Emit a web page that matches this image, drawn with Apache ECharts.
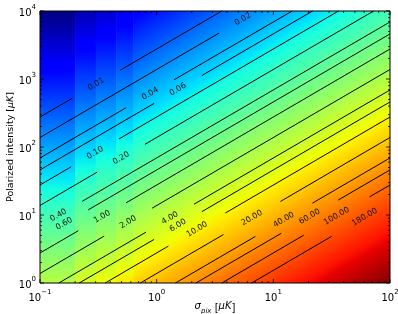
<!DOCTYPE html>
<html>
<head>
<meta charset="utf-8">
<script src="https://cdn.jsdelivr.net/npm/echarts@6/dist/echarts.min.js"></script>
<style>
  html, body { margin: 0; padding: 0; background: #fff; }
  #main { width: 398px; height: 314px; }
</style>
</head>
<body>
<div id="main"></div>
<script>
// axes: sigma_pix and polarized intensity, both in uK
const xRange = [0.1, 100];
const yRange = [1, 10000];
const xTicks = [0.1, 1, 10, 100];
const xTickExp = ['\u22121', '0', '1', '2'];
const yTicks = [1, 10, 100, 1000, 10000];
const yTickExp = ['0', '1', '2', '3', '4'];
const minorSteps = [2, 3, 4, 5, 6, 7, 8, 9];

// colour map columns (the first ones are coarse), value at P=1 and P=1e4
const cellSigmaLeft = [0.1, 0.2, 0.3, 0.45, 0.63];
const cellSigmaRight = [0.2, 0.3, 0.45, 0.63, 100];
const cellLowLeft = [2.76, 5.52, 8.28, 12.4, 17.4];
const cellHighLeft = [0.000276, 0.000552, 0.000828, 0.00124, 0.00174];
const cellLowRight = [2.76, 5.52, 8.28, 12.4, 2760];
const fieldMin = 0.000276;
const fieldMax = 2760;

// contour levels and where their labels sit
const levels = [0.01, 0.02, 0.04, 0.06, 0.1, 0.2, 0.4, 0.6, 1, 2, 4, 6, 10, 20, 40, 60, 100, 180];
const labelSigma = [0.303, 5.48, 0.879, 1.52, 0.297, 0.495, 0.144, 0.161, 0.341, 0.569, 1.30, 1.52, 2.22, 6.55, 12.3, 20.5, 34.9, 60.7];
const labelP = [838, 7568, 607, 701, 82.0, 68.4, 9.91, 7.43, 9.42, 7.85, 8.99, 7.01, 6.12, 9.04, 8.49, 9.44, 9.64, 9.31];

// visible pieces of each contour line (gaps are left for the labels)
const segLevel = [0, 0, 1, 2, 2, 3, 3, 4, 4, 5, 5, 6, 7, 8, 8, 9, 9, 10, 10, 11, 11, 12, 12, 13, 13, 14, 14, 15, 15, 16, 16, 17];
const segStart = [
  [0.1, 276], [0.486, 1343], [0.1, 138], [0.1, 69.0], [1.41, 973], [0.1, 46.0], [2.44, 1125],
  [0.1, 27.6], [0.476, 131.5], [0.1, 13.8], [0.796, 109.9], [0.230, 15.9], [0.259, 11.9],
  [0.1, 2.76], [0.547, 15.1], [0.1, 1.38], [0.914, 12.6], [0.145, 1], [2.09, 14.4],
  [0.217, 1], [2.44, 11.2], [0.362, 1], [3.88, 10.7], [0.724, 1], [11.5, 15.8],
  [1.45, 1], [21.6, 14.9], [2.17, 1], [36.0, 16.6], [3.62, 1], [66.9, 18.5], [6.52, 1]
];
const segEnd = [
  [0.189, 521], [3.62, 10000], [3.42, 4721], [0.547, 378], [14.5, 10000], [0.951, 438], [21.7, 10000],
  [0.185, 51.2], [36.2, 10000], [0.309, 42.7], [72.4, 10000], [100, 6902], [100, 4603],
  [0.213, 5.87], [100, 2761], [0.355, 4.90], [100, 1380], [0.811, 5.60], [100, 690],
  [0.951, 4.38], [100, 460], [1.26, 3.49], [100, 276], [3.73, 5.15], [100, 138],
  [7.02, 4.84], [100, 69.0], [11.7, 5.38], [100, 46.0], [18.2, 5.04], [100, 27.6], [31.6, 4.85]
];

// jet colormap
const jetStops = [
  [0, '#000080'], [0.11, '#0000ff'], [0.125, '#0000ff'], [0.34, '#00dbff'],
  [0.35, '#00e6f7'], [0.375, '#15ffe2'], [0.64, '#efff08'], [0.65, '#f7f500'],
  [0.66, '#ffec00'], [0.89, '#ff1300'], [0.91, '#e80000'], [1, '#800000']
];

const FONT = 'DejaVu Sans';

function renderCell(params, api) {
  const i = params.dataIndex;
  const bl = api.coord([cellSigmaLeft[i], yRange[0]]);
  const tl = api.coord([cellSigmaLeft[i], yRange[1]]);
  const br = api.coord([cellSigmaRight[i], yRange[0]]);
  const l0 = Math.log10(cellLowLeft[i]);
  const bx = (Math.log10(cellLowRight[i]) - l0) / (br[0] - bl[0]);
  const by = (Math.log10(cellHighLeft[i]) - l0) / (tl[1] - bl[1]);
  const g2 = bx * bx + by * by;
  const s0 = (Math.log10(fieldMin) - l0) / g2;
  const s1 = (Math.log10(fieldMax) - l0) / g2;
  const last = i === cellSigmaLeft.length - 1;
  return {
    type: 'rect',
    shape: { x: bl[0], y: tl[1], width: br[0] - bl[0] + (last ? 0 : 0.6), height: bl[1] - tl[1] },
    style: {
      fill: {
        type: 'linear', global: true,
        x: bl[0] + bx * s0, y: bl[1] + by * s0,
        x2: bl[0] + bx * s1, y2: bl[1] + by * s1,
        colorStops: jetStops.map(s => ({ offset: s[0], color: s[1] }))
      }
    }
  };
}

function renderSeg(params, api) {
  const i = params.dataIndex;
  const a = api.coord(segStart[i]);
  const b = api.coord(segEnd[i]);
  return {
    type: 'line',
    shape: { x1: a[0], y1: a[1], x2: b[0], y2: b[1] },
    style: { stroke: '#000', lineWidth: 1 }
  };
}

function renderLabel(params, api) {
  const i = params.dataIndex;
  const j = segLevel.indexOf(i);
  const a = api.coord(segStart[j]);
  const b = api.coord(segEnd[j]);
  const p = api.coord([labelSigma[i], labelP[i]]);
  return {
    type: 'text',
    x: p[0], y: p[1],
    rotation: Math.atan2(a[1] - b[1], b[0] - a[0]),
    style: {
      text: levels[i].toFixed(2), fill: '#111', fontSize: 8, fontFamily: FONT,
      align: 'center', verticalAlign: 'middle'
    }
  };
}

// tick marks on all four sides, pointing in
const tickItems = [];
xTicks.forEach((t, k) => {
  tickItems.push([t, 4, 0]);
  if (k < xTicks.length - 1) minorSteps.forEach(m => tickItems.push([t * m, 2, 0]));
});
yTicks.forEach((t, k) => {
  tickItems.push([t, 4, 1]);
  if (k < yTicks.length - 1) minorSteps.forEach(m => tickItems.push([t * m, 2, 1]));
});

function renderTick(params, api) {
  const it = tickItems[params.dataIndex];
  const v = it[0], len = it[1];
  let p, q;
  if (it[2] === 0) {
    p = api.coord([v, yRange[0]]);
    q = api.coord([v, yRange[1]]);
    return { type: 'group', children: [
      { type: 'line', shape: { x1: p[0], y1: p[1], x2: p[0], y2: p[1] - len }, style: { stroke: '#000', lineWidth: 0.8 } },
      { type: 'line', shape: { x1: q[0], y1: q[1], x2: q[0], y2: q[1] + len }, style: { stroke: '#000', lineWidth: 0.8 } }
    ] };
  }
  p = api.coord([xRange[0], v]);
  q = api.coord([xRange[1], v]);
  return { type: 'group', children: [
    { type: 'line', shape: { x1: p[0], y1: p[1], x2: p[0] + len, y2: p[1] }, style: { stroke: '#000', lineWidth: 0.8 } },
    { type: 'line', shape: { x1: q[0], y1: q[1], x2: q[0] - len, y2: q[1] }, style: { stroke: '#000', lineWidth: 0.8 } }
  ] };
}

function renderFrame(params, api) {
  const a = api.coord([xRange[0], yRange[1]]);
  const b = api.coord([xRange[1], yRange[0]]);
  return {
    type: 'rect',
    shape: { x: a[0], y: a[1], width: b[0] - a[0], height: b[1] - a[1] },
    style: { fill: 'none', stroke: '#000', lineWidth: 1 }
  };
}

function expLabel(ticks, exps) {
  return function (v) {
    const i = ticks.findIndex(t => Math.abs(t - v) / t < 1e-6);
    return i < 0 ? '' : '{b|10}{s|' + exps[i] + '}';
  };
}

const tickRich = {
  b: { fontSize: 10, fontFamily: FONT, color: '#000', lineHeight: 14, verticalAlign: 'bottom' },
  s: { fontSize: 7, fontFamily: FONT, color: '#000', lineHeight: 9, verticalAlign: 'top' }
};

const chart = echarts.init(document.getElementById('main'), null, { renderer: 'canvas' });
chart.setOption({
  animation: false,
  backgroundColor: '#fff',
  grid: { left: 40, right: 8, top: 11, bottom: 31, containLabel: false, outerBoundsMode: 'none' },
  xAxis: {
    type: 'log', logBase: 10, min: xRange[0], max: xRange[1],
    axisLine: { show: false }, axisTick: { show: false }, splitLine: { show: false },
    axisLabel: { margin: 6, formatter: expLabel(xTicks, xTickExp), rich: tickRich },
    name: '{i|\u03c3}{sub|pix} [{i|\u03bcK}]',
    nameLocation: 'middle', nameGap: 18, nameMoveOverlap: false,
    nameTextStyle: {
      fontSize: 10, fontFamily: FONT, color: '#000', verticalAlign: 'top',
      rich: {
        i: { fontSize: 10, fontFamily: FONT, fontStyle: 'italic', color: '#000', lineHeight: 14, verticalAlign: 'top' },
        sub: { fontSize: 7, fontFamily: FONT, fontStyle: 'italic', color: '#000', lineHeight: 14, verticalAlign: 'bottom' }
      }
    }
  },
  yAxis: {
    type: 'log', logBase: 10, min: yRange[0], max: yRange[1],
    axisLine: { show: false }, axisTick: { show: false }, splitLine: { show: false },
    axisLabel: { margin: 4, formatter: expLabel(yTicks, yTickExp), rich: tickRich },
    name: 'Polarized intensity [{i|\u03bcK}]',
    nameLocation: 'middle', nameGap: 24, nameRotate: 90, nameMoveOverlap: false,
    nameTextStyle: {
      fontSize: 9.5, fontFamily: FONT, color: '#000',
      rich: { i: { fontSize: 9.5, fontFamily: FONT, fontStyle: 'italic', color: '#000' } }
    }
  },
  series: [
    { type: 'custom', name: 'map', z: 1, renderItem: renderCell,
      data: cellSigmaLeft.map((s, i) => [s, cellSigmaRight[i]]) },
    { type: 'custom', name: 'contours', z: 2, renderItem: renderSeg,
      data: segStart.map((s, i) => [s[0], s[1], segEnd[i][0], segEnd[i][1]]) },
    { type: 'custom', name: 'labels', z: 3, renderItem: renderLabel,
      data: labelSigma.map((s, i) => [s, labelP[i]]) },
    { type: 'custom', name: 'ticks', z: 4, renderItem: renderTick, data: tickItems },
    { type: 'custom', name: 'frame', z: 5, renderItem: renderFrame,
      data: [[xRange[0], yRange[0], xRange[1], yRange[1]]] }
  ]
});
</script>
</body>
</html>
